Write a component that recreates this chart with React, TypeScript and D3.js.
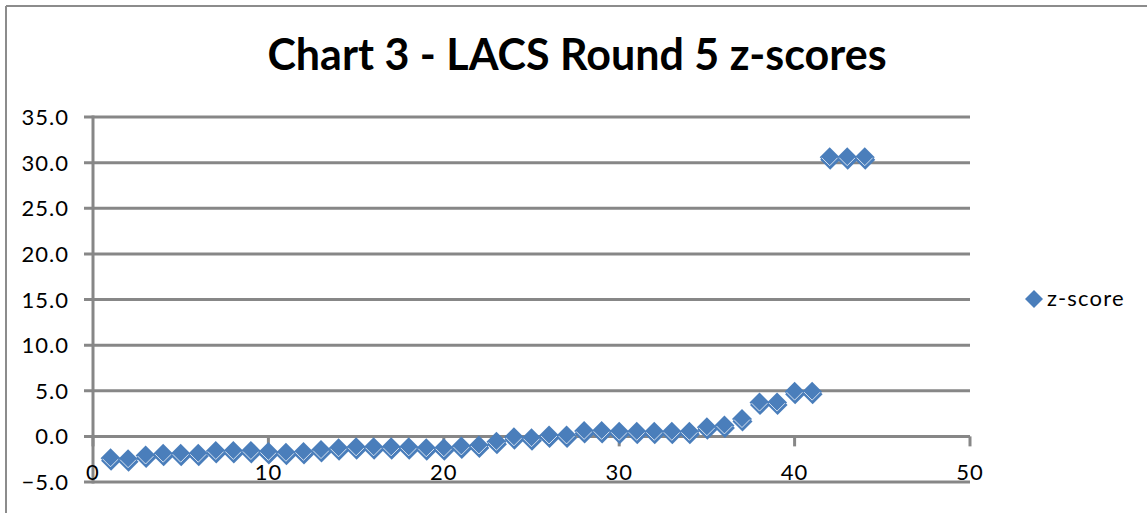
import React from "react";
import * as d3 from "d3";

const xValues: number[] = d3.range(1, 45);
const zScores: number[] = [
  -2.4, -2.5, -2.1, -1.9, -1.9, -1.9, -1.6, -1.6, -1.6, -1.7,
  -1.8, -1.7, -1.5, -1.3, -1.2, -1.2, -1.2, -1.2, -1.3, -1.3,
  -1.1, -1.0, -0.6, -0.1, -0.2, 0.1, 0.1, 0.6, 0.6, 0.5,
  0.5, 0.5, 0.5, 0.5, 1.0, 1.2, 1.9, 3.7, 3.7, 4.9,
  4.9, 30.6, 30.6, 30.6,
];
const yTicks: number[] = [-5, 0, 5, 10, 15, 20, 25, 30, 35];
const xTicks: number[] = [0, 10, 20, 30, 40, 50];
const titleText = "Chart 3 - LACS Round 5 z-scores";
const seriesName = "z-score";

const W = 1148;
const H = 513;
const FONT = "Lato, 'Open Sans', sans-serif";
const GRID = "#878787";
const BLUE = "#4a7ebb";

function diamond(cx: number, cy: number, r: number): string {
  return `M${cx},${cy - r}L${cx + r},${cy}L${cx},${cy + r}L${cx - r},${cy}Z`;
}

export default function App() {
  const x = d3.scaleLinear().domain([0, 50]).range([93, 970]);
  const y = d3.scaleLinear().domain([-5, 35]).range([482, 117]);
  const r = 10;

  return (
    <svg
      width={W}
      height={H}
      style={{ position: "fixed", left: 0, top: 0, background: "#fff" }}
      fontFamily={FONT}
    >
      <rect x={0} y={0} width={W} height={H} fill="#fff" />
      {/* outer border */}
      <line x1={6} y1={6} x2={1147} y2={6} stroke="#8c8c8c" strokeWidth={2} />
      <line x1={6} y1={6} x2={6} y2={H} stroke="#8c8c8c" strokeWidth={2} />

      <text
        x={577}
        y={70}
        textAnchor="middle"
        fontSize={43}
        fontWeight={700}
        fill="#000"
      >
        {titleText}
      </text>

      {/* gridlines */}
      {yTicks.map((t) => (
        <line
          key={"g" + t}
          x1={84}
          x2={970}
          y1={y(t)}
          y2={y(t)}
          stroke={GRID}
          strokeWidth={3}
        />
      ))}
      {/* y axis */}
      <line x1={x(0)} x2={x(0)} y1={y(35) - 1.5} y2={y(-5) + 1.5} stroke={GRID} strokeWidth={3} />
      {/* x ticks on zero line */}
      {xTicks.map((t) => (
        <line
          key={"xt" + t}
          x1={x(t)}
          x2={x(t)}
          y1={y(0)}
          y2={y(0) + 10}
          stroke={GRID}
          strokeWidth={3}
        />
      ))}
      {/* y labels */}
      {yTicks.map((t) => (
        <text
          key={"yl" + t}
          x={69}
          y={y(t) + 8}
          textAnchor="end"
          fontSize={22}
          letterSpacing={1}
          fill="#000"
        >
          {d3.format(".1f")(t)}
        </text>
      ))}
      {/* x labels */}
      {xTicks.map((t) => (
        <text
          key={"xl" + t}
          x={x(t)}
          y={480}
          textAnchor="middle"
          fontSize={22}
          letterSpacing={1}
          fill="#000"
        >
          {t}
        </text>
      ))}

      {/* markers */}
      {xValues.map((xv, i) => {
        const cx = x(xv);
        const cy = y(zScores[i]);
        return (
          <g key={"m" + i}>
            <path d={diamond(cx + 0.5, cy + 2.5, r)} fill={BLUE} />
            <path d={diamond(cx, cy, r)} fill={BLUE} />
            <path
              d={`M${cx - r + 2},${cy + 0.5}L${cx},${cy + r - 1.5}L${cx + r - 2},${cy + 0.5}`}
              fill="none"
              stroke="#ffffff"
              strokeOpacity={0.75}
              strokeWidth={1}
            />
          </g>
        );
      })}

      {/* legend */}
      <path d={diamond(1034, 299, 9)} fill={BLUE} />
      <text x={1047} y={306} fontSize={22} letterSpacing={1.2} fill="#000">
        {seriesName}
      </text>
    </svg>
  );
}
